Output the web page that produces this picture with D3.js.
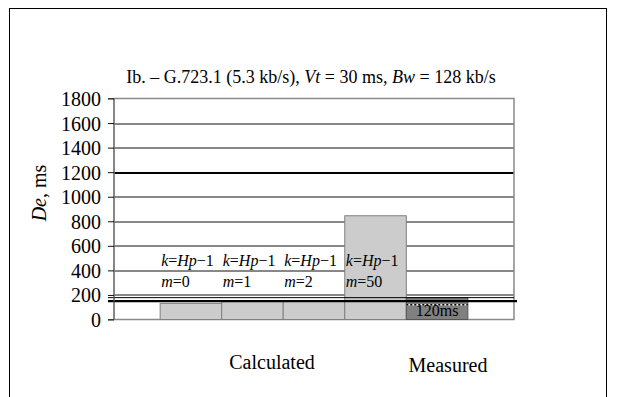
<!DOCTYPE html>
<html>
<head>
<meta charset="utf-8">
<script src="https://cdn.jsdelivr.net/npm/d3@7"></script>
<style>
  body { margin: 0; background: #fff; }
  text { font-family: "Liberation Serif", "Times New Roman", serif; fill: #000; }
</style>
</head>
<body>
<div id="chart"></div>
<script>
// data
const series = ["m=0", "m=1", "m=2", "m=50", "Measured"];
const delays = [131, 152, 155, 845, 178];
const calcLabels = ["m=0", "m=1", "m=2", "m=50"];
const yTicks = [0, 200, 400, 600, 800, 1000, 1200, 1400, 1600, 1800];
const limitLine = 150;      // thick black line
const measuredLine = 178;   // thin line at measured level
const measuredMin = 120;    // dashed line inside the measured bar

const config = {
    width: 619,
    height: 397,
    padding: {top: 98.5, right: 105, bottom: 77.5, left: 114}
};
config.innerWidth = config.width - config.padding.left - config.padding.right;
config.innerHeight = config.height - config.padding.top - config.padding.bottom;

const svg = d3.select("#chart").append("svg")
    .attr("width", config.width)
    .attr("height", config.height);

// outer frame
svg.append("rect")
    .attr("x", 9.5).attr("y", 8.5)
    .attr("width", 597).attr("height", 420)
    .attr("fill", "none").attr("stroke", "#000").attr("stroke-width", 1);

// title
const title = svg.append("text")
    .attr("x", 311).attr("y", 83)
    .attr("text-anchor", "middle")
    .style("font-size", "18px");
title.append("tspan").text("Ib. – G.723.1 (5.3 kb/s), ");
title.append("tspan").style("font-style", "italic").text("Vt");
title.append("tspan").text(" = 30 ms, ");
title.append("tspan").style("font-style", "italic").text("Bw");
title.append("tspan").text(" = 128 kb/s");

const g = svg.append("g")
    .attr("transform", `translate(${config.padding.left}, ${config.padding.top})`);

const scale = {
    x: d3.scaleBand().domain(series).range([0, config.innerWidth]).paddingInner(0).paddingOuter(0.75),
    y: d3.scaleLinear().domain([0, 1800]).range([config.innerHeight, 0])
};

// gridlines
g.selectAll(".grid").data(yTicks.filter(d => d > 0 && d < 1800))
    .enter().append("line")
    .attr("class", "grid")
    .attr("x1", 0).attr("x2", config.innerWidth)
    .attr("y1", d => Math.round(scale.y(d)) + 0.5)
    .attr("y2", d => Math.round(scale.y(d)) + 0.5)
    .attr("stroke", d => d === 1200 ? "#000" : "#111")
    .attr("stroke-width", d => d === 1200 ? 2 : 1);

// plot border
g.append("rect")
    .attr("x", 0).attr("y", 0)
    .attr("width", config.innerWidth).attr("height", config.innerHeight)
    .attr("fill", "none").attr("stroke", "#8a8a8a").attr("stroke-width", 1.5);

// bars
g.selectAll(".bar").data(delays)
    .enter().append("rect")
    .attr("class", "bar")
    .attr("x", (d, i) => scale.x(series[i]))
    .attr("y", d => scale.y(d))
    .attr("width", scale.x.bandwidth())
    .attr("height", d => scale.y(0) - scale.y(d))
    .attr("fill", (d, i) => series[i] === "Measured" ? "#808080" : "#cccccc")
    .attr("stroke", (d, i) => series[i] === "Measured" ? "#555" : "#808080")
    .attr("stroke-width", 1);

// dashed 120 ms line inside measured bar
const mx = scale.x("Measured");
g.append("line")
    .attr("x1", mx).attr("x2", mx + scale.x.bandwidth())
    .attr("y1", scale.y(measuredMin)).attr("y2", scale.y(measuredMin))
    .attr("stroke", "#eee").attr("stroke-width", 1.5);
g.append("line")
    .attr("x1", mx).attr("x2", mx + scale.x.bandwidth())
    .attr("y1", scale.y(measuredMin)).attr("y2", scale.y(measuredMin))
    .attr("stroke", "#000").attr("stroke-width", 1.5).attr("stroke-dasharray", "2,2");
g.append("text")
    .attr("x", mx + scale.x.bandwidth() / 2)
    .attr("y", scale.y(measuredMin) + 11)
    .attr("text-anchor", "middle")
    .style("font-size", "16px")
    .text("120ms");

// reference lines
g.append("line")
    .attr("x1", -6).attr("x2", config.innerWidth)
    .attr("y1", scale.y(measuredLine)).attr("y2", scale.y(measuredLine))
    .attr("stroke", "#000").attr("stroke-width", 1);
g.append("line")
    .attr("x1", -6).attr("x2", config.innerWidth + 3)
    .attr("y1", scale.y(limitLine)).attr("y2", scale.y(limitLine))
    .attr("stroke", "#000").attr("stroke-width", 2.2);

// y axis
const yAxis = g.append("g")
    .call(d3.axisLeft(scale.y).tickValues(yTicks).tickSize(6).tickPadding(7).tickFormat(d3.format("d")));
yAxis.select(".domain").attr("stroke", "#666").attr("d", `M-6,${config.innerHeight}H0V0H-6`);
yAxis.selectAll(".tick line").attr("stroke", "#111");
yAxis.selectAll("text")
    .attr("dy", "0.35em")
    .style("font-family", "'Liberation Serif', 'Times New Roman', serif")
    .style("font-size", "20px");

// y label
const yLabel = svg.append("text")
    .attr("transform", "translate(46,193) rotate(-90)")
    .attr("text-anchor", "middle")
    .style("font-size", "20px");
yLabel.append("tspan").style("font-style", "italic").text("De");
yLabel.append("tspan").text(", ms");

// k=Hp-1 / m=… labels
calcLabels.forEach(function(lab, i) {
    const x = scale.x(series[i]) + 1;
    const k = g.append("text").attr("x", x).attr("y", scale.y(435)).style("font-size", "16px");
    k.append("tspan").style("font-style", "italic").text("k");
    k.append("tspan").text("=");
    k.append("tspan").style("font-style", "italic").text("Hp");
    k.append("tspan").text("−1");
    const m = g.append("text").attr("x", x).attr("y", scale.y(262)).style("font-size", "16px");
    m.append("tspan").style("font-style", "italic").text("m");
    m.append("tspan").text(lab.slice(1));
});

// category captions
svg.append("text").attr("x", 272).attr("y", 369).attr("text-anchor", "middle")
    .style("font-size", "20px").text("Calculated");
svg.append("text").attr("x", 448).attr("y", 372).attr("text-anchor", "middle")
    .style("font-size", "20px").text("Measured");
</script>
</body>
</html>
